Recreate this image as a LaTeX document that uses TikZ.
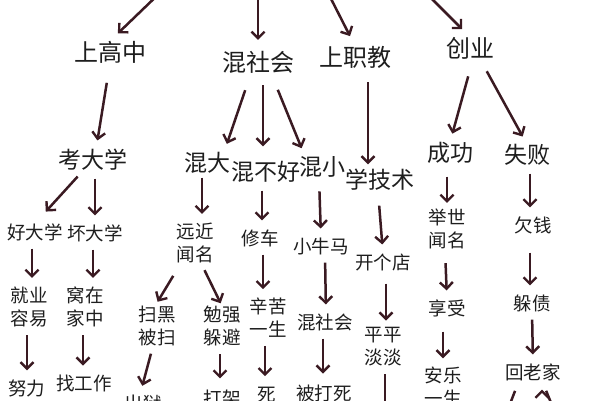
\documentclass[tikz,border=0pt]{standalone}
\usepackage{fontspec}
\setmainfont{Noto Sans CJK SC}
\usetikzlibrary{arrows.meta}
\definecolor{arrowc}{HTML}{3A1A22}
\definecolor{textc}{HTML}{1E1E1E}

\begin{document}
\begin{tikzpicture}[x=1pt,y=-1pt,
  every node/.style={inner sep=0pt,outer sep=0pt,text=textc,align=center},
  big/.style={font=\fontsize{24}{24}\selectfont},
  mid/.style={font=\fontsize{23}{23}\selectfont},
  small/.style={font=\fontsize{18.5}{23}\selectfont},
  arr/.style={draw=arrowc,line width=2.5pt,
    -{Straight Barb[length=6.5pt,width=13pt,line width=2.4pt]},
    shorten <=8pt,shorten >=9pt}]
\useasboundingbox (0,0) rectangle (600,400);
\clip (0,0) rectangle (600,400);
\fill[white] (0,0) rectangle (600,400);

\coordinate (src1) at (165,-12);
\coordinate (src2) at (258,-12);
\coordinate (src3) at (325,-13);
\coordinate (src4) at (420,-13);
\coordinate (out1) at (385,420);
\coordinate (out2) at (500,430);
\coordinate (out3) at (562,430);

\path node[big] (gaozhong) at (110,52) {上高中}
  node[big] (hunshehui) at (258,62) {混社会}
  node[big] (zhijiao) at (355,57) {上职教}
  node[big] (chuangye) at (470,48) {创业}
  node[mid] (kaodaxue) at (93,160) {考大学}
  node[mid] (hunda) at (207,163) {混大}
  node[mid] (hunbuhao) at (266,172) {混不好}
  node[mid] (hunxiao) at (322,167) {混小}
  node[mid] (xuejishu) at (380,180) {学技术}
  node[mid] (chenggong) at (450,153) {成功}
  node[mid] (shibai) at (527,155) {失败}
  node[small] (haodaxue) at (35,232) {好大学}
  node[small] (huaidaxue) at (95,233) {坏大学}
  node[small] (yuanjin) at (195,243) {远近\\闻名}
  node[small] (xiuche) at (260,238) {修车}
  node[small] (xiaoniuma) at (321,246) {小牛马}
  node[small] (kaidian) at (383,262) {开个店}
  node[small] (jushi) at (447,229) {举世\\闻名}
  node[small] (qianqian) at (533,225) {欠钱}
  node[small] (jiuye) at (29,307) {就业\\容易}
  node[small] (wozai) at (85,307) {窝在\\家中}
  node[small] (saohei) at (157,326) {扫黑\\被扫}
  node[small] (mianqiang) at (222,326) {勉强\\躲避}
  node[small] (xinku) at (268,318) {辛苦\\一生}
  node[small] (shehui) at (325,322) {混社会}
  node[small] (pingdan) at (383,347) {平平\\淡淡}
  node[small] (xiangshou) at (447,308) {享受}
  node[small] (duozhai) at (532,303) {躲债}
  node[small] (nuli) at (27,388) {努力}
  node[small] (zhaogongzuo) at (84,383) {找工作}
  node[small] (chuyu) at (143,403) {出狱}
  node[small] (dajia) at (222,398) {打架}
  node[small] (si) at (267,395) {死}
  node[small] (beidasi) at (324,393) {被打死}
  node[small] (anle) at (443,387) {安乐\\一生}
  node[small] (huilaojia) at (533,372) {回老家};

\path[arr]
  (src1) edge[shorten >=11pt] (gaozhong.north)
  (src2) edge[shorten >=11pt] (hunshehui.north)
  (src3) edge[shorten >=11pt] (zhijiao.north)
  (src4) edge[shorten >=11pt] (chuangye.north)
  (gaozhong.south) edge[shorten <=20pt] ([xshift=3pt]kaodaxue.north)
  ([xshift=-7pt]hunshehui.south) edge[shorten <=18pt] ([xshift=-6pt]hunda.north east)
  ([xshift=5pt]hunshehui.south) edge[shorten <=12pt,shorten >=15pt] ([xshift=-3pt]hunbuhao.north)
  ([xshift=13pt]hunshehui.south) edge[shorten <=18pt] ([xshift=6pt]hunxiao.north west)
  ([xshift=13pt]zhijiao.south) edge[shorten <=14pt,shorten >=5pt] ([xshift=-12pt]xuejishu.north)
  ([xshift=3pt]chuangye.south) edge[shorten <=18pt] (chenggong.north)
  ([xshift=10pt]chuangye.south) edge[shorten <=14pt] (shibai.north)
  ([xshift=-10pt]kaodaxue.south) edge[shorten >=16pt] (haodaxue.north)
  ([xshift=2pt]kaodaxue.south) edge (huaidaxue.north)
  ([xshift=-5pt]hunda.south) edge[shorten <=4pt] ([xshift=7pt]yuanjin.north)
  ([xshift=-4pt]hunbuhao.south) edge ([xshift=2pt]xiuche.north)
  ([xshift=-3pt]hunxiao.south) edge[shorten <=14pt] (xiaoniuma.north)
  ([xshift=-2pt]xuejishu.south) edge[shorten <=15pt] (kaidian.north)
  ([xshift=-3pt]chenggong.south) edge[shorten <=13pt,shorten >=6pt] (jushi.north)
  ([xshift=3pt]shibai.south) edge ([xshift=-3pt]qianqian.north)
  ([xshift=-3pt]haodaxue.south) edge ([xshift=3pt]jiuye.north)
  ([xshift=-2pt]huaidaxue.south) edge ([xshift=8pt]wozai.north)
  ([xshift=-14pt]yuanjin.south) edge[shorten <=15pt,shorten >=5pt] ([xshift=-2pt]saohei.north)
  ([xshift=6pt]yuanjin.south) edge[shorten >=3pt] (mianqiang.north)
  ([xshift=3pt]xiuche.south) edge ([xshift=-5pt]xinku.north)
  ([xshift=4pt]xiaoniuma.south) edge ([xshift=1pt]shehui.north)
  ([xshift=3pt]kaidian.south) edge[shorten <=13pt,shorten >=7pt] ([xshift=3pt]pingdan.north)
  ([xshift=-2pt]jushi.south) edge[shorten <=14pt] (xiangshou.north)
  ([xshift=-3pt]qianqian.south) edge[shorten <=19pt] ([xshift=-2pt]duozhai.north)
  ([xshift=-2pt]jiuye.south) edge (nuli.north)
  ([xshift=-2pt]wozai.south) edge ([xshift=-1pt]zhaogongzuo.north)
  ([xshift=-4pt]saohei.south) edge ([xshift=-3pt]chuyu.north)
  ([xshift=-2pt]mianqiang.south) edge[shorten >=11pt] ([xshift=-2pt]dajia.north)
  ([xshift=-3pt]xinku.south) edge[shorten >=11pt] ([xshift=-2pt]si.north)
  ([xshift=-2pt]shehui.south) edge[shorten >=11pt] ([xshift=-1pt]beidasi.north)
  ([xshift=2pt]pingdan.south) edge (out1)
  ([xshift=-4pt]xiangshou.south) edge[shorten <=15pt] (anle.north)
  (duozhai.south) edge (huilaojia.north)
  ([xshift=-14pt]huilaojia.south) edge[shorten <=11pt] (out2)
  ([xshift=9pt]huilaojia.south) edge[shorten <=11pt] (out3);
\end{tikzpicture}
\end{document}
